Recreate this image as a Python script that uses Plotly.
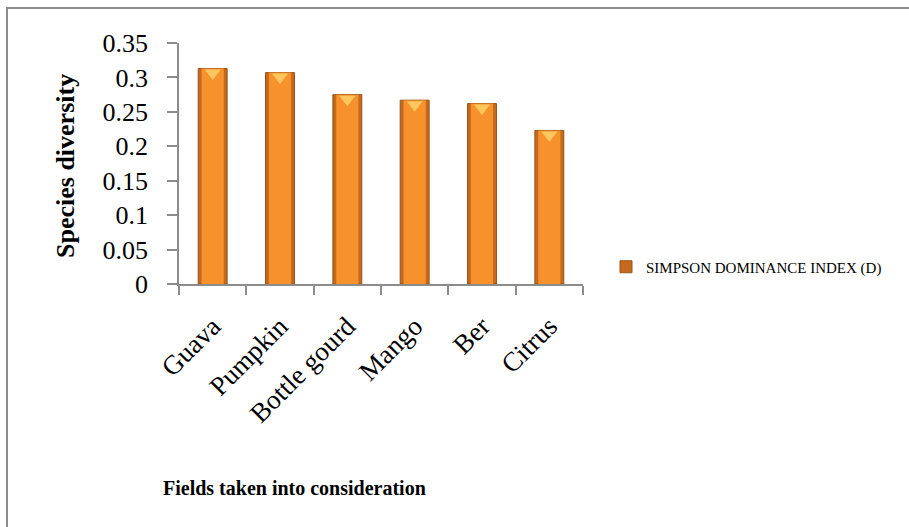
import plotly.graph_objects as go

categories = ["Guava", "Pumpkin", "Bottle gourd", "Mango", "Ber", "Citrus"]
simpson_d = [0.313, 0.307, 0.275, 0.267, 0.262, 0.223]
series_name = "SIMPSON DOMINANCE INDEX (D)"
y_ticks = [0, 0.05, 0.1, 0.15, 0.2, 0.25, 0.3, 0.35]
y_tick_text = ["0", "0.05", "0.1", "0.15", "0.2", "0.25", "0.3", "0.35"]

FONT = "Liberation Serif"
W, H = 909, 527
L, R, T, B = 179, 326, 43, 243
pw, ph = W - L - R, H - T - B
Y_MAX = 0.35

def px_x(p):
    return (p - L) / pw

def px_y(p):
    return (H - B - p) / ph

# shift (in pixels) of the top bevel highlight below each bar top
bevel_shift = 4.5 * Y_MAX / ph

fig = go.Figure()
# darker outer body of bars
fig.add_trace(go.Bar(
    x=categories, y=simpson_d, width=0.43, name=series_name,
    marker=dict(color="#C46A1E", line=dict(color="#9A5418", width=1)),
    showlegend=True, hoverinfo="skip",
))
# lighter inner face
fig.add_trace(go.Bar(
    x=categories, y=simpson_d, width=0.33, name=series_name,
    marker=dict(color="#F6912C", line=dict(width=0)),
    showlegend=False,
))
# top bevel highlight
fig.add_trace(go.Scatter(
    x=categories, y=simpson_d, yaxis="y2", mode="markers",
    marker=dict(symbol="triangle-down", size=14, color="#FFD56A",
                opacity=0.8, line=dict(width=0)),
    showlegend=False, hoverinfo="skip",
))

fig.update_layout(
    width=W, height=H,
    margin=dict(l=L, r=R, t=T, b=B),
    paper_bgcolor="white", plot_bgcolor="white",
    barmode="overlay",
    font=dict(family=FONT, color="#000000"),
    showlegend=True,
    legend=dict(
        x=px_x(606), y=px_y(267), xanchor="left", yanchor="middle",
        font=dict(family=FONT, size=15, color="#000000"),
        bgcolor="rgba(0,0,0,0)", itemwidth=30, tracegroupgap=0,
    ),
    xaxis=dict(
        showline=True, linecolor="#8c8c8c", linewidth=1.5,
        ticks="outside", ticklen=9, tickcolor="#8c8c8c", tickwidth=1.5,
        tickson="boundaries", tickangle=-45, ticklabelstandoff=14,
        tickfont=dict(family=FONT, size=27, color="#000000"),
        showgrid=False, zeroline=False,
    ),
    yaxis=dict(
        range=[0, Y_MAX], tickvals=y_ticks, ticktext=y_tick_text,
        showline=True, linecolor="#8c8c8c", linewidth=1.5,
        ticks="outside", ticklen=10, tickcolor="#8c8c8c", tickwidth=1.5,
        ticklabelstandoff=14,
        tickfont=dict(family=FONT, size=26, color="#000000"),
        showgrid=False, zeroline=False,
    ),
    yaxis2=dict(
        overlaying="y", range=[bevel_shift, Y_MAX + bevel_shift],
        visible=False, showgrid=False, zeroline=False,
    ),
    annotations=[
        dict(text="<b>Species diversity</b>", xref="paper", yref="paper",
             x=px_x(65), y=px_y(166), textangle=-90, showarrow=False,
             xanchor="center", yanchor="middle",
             font=dict(family=FONT, size=26, color="#000000")),
        dict(text="<b>Fields taken into consideration</b>", xref="paper", yref="paper",
             x=px_x(294), y=px_y(488), showarrow=False,
             xanchor="center", yanchor="middle",
             font=dict(family=FONT, size=20, color="#000000")),
    ],
    shapes=[
        dict(type="rect", xref="paper", yref="paper",
             x0=px_x(7), x1=px_x(930), y0=px_y(8), y1=px_y(545),
             line=dict(color="#8c8c8c", width=2), fillcolor="rgba(0,0,0,0)",
             layer="below"),
    ],
)

fig.write_html("out.html")
